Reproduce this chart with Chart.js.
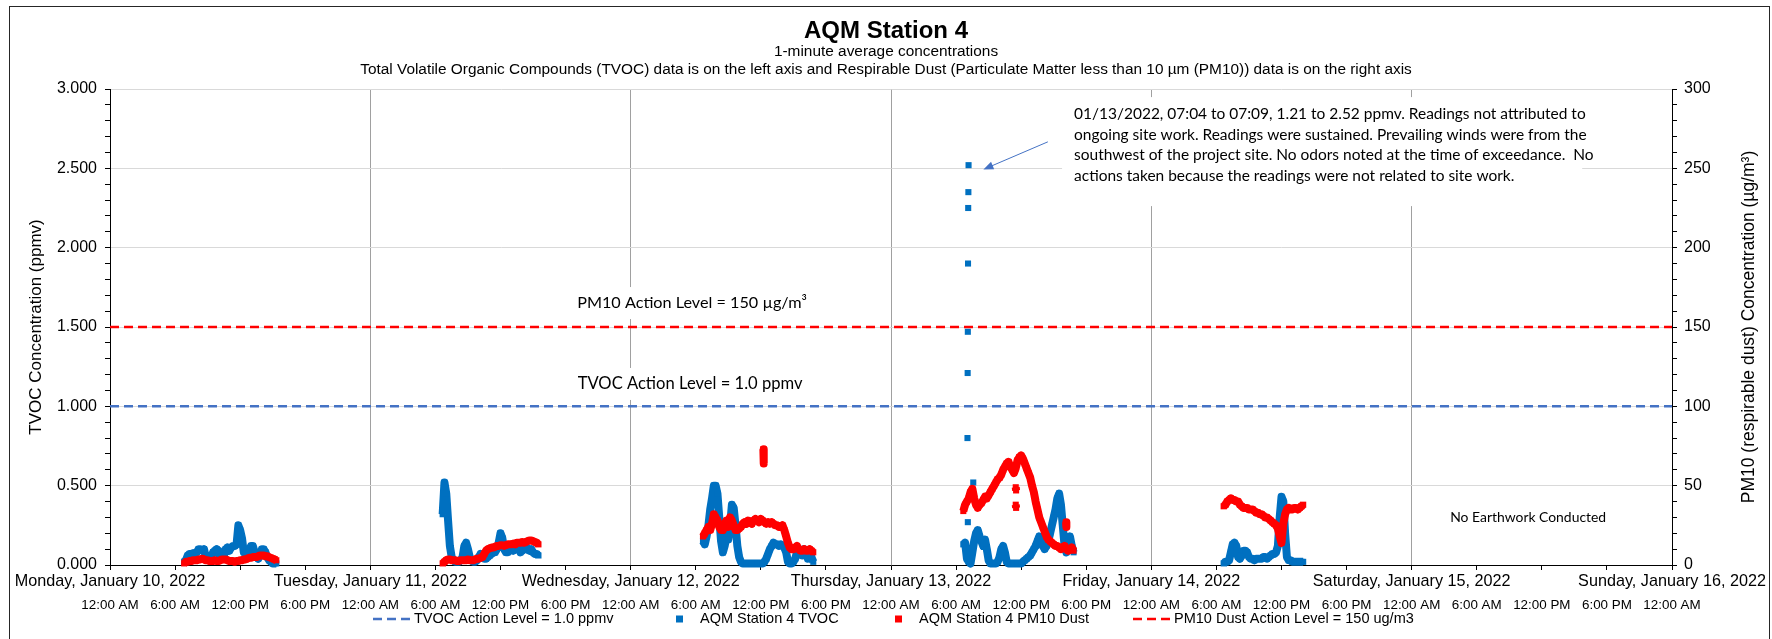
<!DOCTYPE html>
<html>
<head>
<meta charset="utf-8">
<title>AQM Station 4</title>
<script src="https://cdn.jsdelivr.net/npm/chart.js@4.4.1/dist/chart.umd.min.js"></script>
<style>
  html, body { margin: 0; padding: 0; background: #fff; overflow: hidden; }
  #frame { position: absolute; left: 9px; top: 6px; width: 1761px; height: 700px; border: 1px solid #262626; box-sizing: border-box; }
  #wrap { position: absolute; left: 0; top: 0; width: 1772px; height: 639px; }
</style>
</head>
<body>
<div id="frame"></div>
<div id="wrap"><canvas id="chart" width="1772" height="639"></canvas></div>
<script>
const SANS = '"Liberation Sans", Arial, sans-serif';
const CALLOUT = 'Lato, "Noto Sans", sans-serif';

const DAY_LABELS = [
  'Monday, January 10, 2022', 'Tuesday, January 11, 2022', 'Wednesday, January 12, 2022',
  'Thursday, January 13, 2022', 'Friday, January 14, 2022', 'Saturday, January 15, 2022',
  'Sunday, January 16, 2022'
];
const TIME_LABELS = ['12:00 AM', '6:00 AM', '12:00 PM', '6:00 PM'];

// first reading of each work day (Mon..Fri), then one reading every SAMPLE_MIN minutes
const FIRST_READING = ['06:50', '06:40', '06:40', '06:40', '06:40'];
const SAMPLE_MIN = 10;

// TVOC, ppmv (left axis)
const tvocMon = [0.02,0.03,0.06,0.07,0.07,0.075,0.07,0.08,0.10,0.10,0.09,0.10,0.05,0.05,0.04,0.05,0.08,0.09,0.10,0.09,
  0.05,0.04,0.06,0.10,0.11,0.09,0.11,0.12,0.12,0.13,0.25,0.22,0.17,0.08,0.07,0.06,0.08,0.12,0.12,0.08,
  0.05,0.04,0.06,0.10,0.10,0.08,0.05,0.03,0.02,0.01,0.01,0.01];
const tvocTue = [0.32,0.52,0.45,0.28,0.12,0.05,0.03,0.02,0.02,0.02,0.03,0.05,0.12,0.14,0.10,0.05,0.03,0.02,0.02,0.03,
  0.05,0.07,0.06,0.04,0.04,0.05,0.06,0.07,0.08,0.08,0.10,0.14,0.20,0.17,0.10,0.08,0.08,0.09,0.10,0.09,
  0.10,0.12,0.10,0.08,0.09,0.10,0.12,0.10,0.09,0.10,0.08,0.07,0.07,0.06];
const tvocWed = [0.15,0.13,0.18,0.25,0.35,0.42,0.50,0.50,0.45,0.30,0.15,0.08,0.12,0.18,0.16,0.25,0.38,0.36,0.25,0.12,
  0.05,0.02,0.01,0.01,0.01,0.01,0.01,0.01,0.01,0.01,0.01,0.01,0.01,0.01,0.02,0.04,0.07,0.10,0.12,0.14,
  0.13,0.13,0.12,0.13,0.12,0.11,0.08,0.02,0.01,0.01,0.02,0.04,0.08,0.10,0.09,0.06,0.10,0.08,0.04,0.07,
  0.05,0.02];
const tvocThu = [0.13,0.14,0.04,0.02,0.01,0.08,0.15,0.20,0.22,0.18,0.15,0.12,0.16,0.10,0.03,0.01,0.01,0.01,0.01,0.02,
  0.05,0.10,0.12,0.08,0.02,0.01,0.01,0.01,0.01,0.01,0.01,0.01,0.01,0.02,0.03,0.04,0.05,0.06,0.08,0.10,
  0.12,0.15,0.18,0.16,0.12,0.10,0.12,0.15,0.20,0.25,0.30,0.35,0.42,0.45,0.38,0.25,0.12,0.08,0.15,0.18,
  0.12,0.08];
const tvocFri = [0.01,0.02,0.02,0.03,0.08,0.13,0.14,0.12,0.05,0.04,0.06,0.09,0.09,0.08,0.05,0.04,0.04,0.03,0.04,0.04,
  0.04,0.04,0.05,0.05,0.04,0.05,0.06,0.07,0.07,0.08,0.12,0.30,0.43,0.40,0.20,0.05,0.03,0.03,0.02,0.02,
  0.02,0.02,0.02,0.02,0.02];
// stand-alone TVOC readings: [day, time, ppmv]
const tvocSingles = [[3,'07:03',0.80],[3,'07:04',1.21],[3,'07:05',1.47],[3,'07:06',1.90],[3,'07:07',2.25],
  [3,'07:08',2.35],[3,'07:09',2.52],[3,'07:05',0.27],[3,'07:35',0.52]];

// PM10, ug/m3 (right axis)
const pm10Mon = [1,2,2,2.5,2.5,3,3,3,3.5,3.5,4,3.5,3,3,2.5,2.5,2.5,3,2.5,2.5,3,3.5,3.5,3.5,3,2.5,2.5,2.5,2,2.5,
  2.5,3,3,3.5,3.5,4,4.5,4.5,5,5,5,5.5,6,6,6,5.5,5.5,5,4.5,4,3.5,3];
const pm10Tue = [1,2,3,3.5,3.5,3,3,3,2.5,2.5,3,3,3,3,3.5,3,3,3,3.5,4,4,4.5,5,7,9,10,10.5,11,11,11.5,
  12,12,12.5,12.5,12,12.5,13,13,13,13.5,13,14,14,14,14.5,14,14.5,15,15.5,15.5,15,14.5,14,13];
const pm10Wed = [18,20,22,24,22,26,32,30,28,24,22,22,26,28,24,30,28,25,22,22,23,24,26,27,26,28,27,26,28,29,
  28,27,29,28,27,26,27,26,27,26,25,25,24,24,25,22,18,14,11,10,10,11,12,10,9,9,10,9,9,10,9,8];
const pm10Thu = [34,38,40,42,46,48,42,38,36,38,39,41,43,42,44,46,48,50,52,54,55,57,60,62,64,65,62,60,58,61,
  66,68,69,67,64,61,58,55,50,46,40,35,30,27,24,21,18,16,15,14,13,12,12,11,10,11,12,10,9,10,11,9];
const pm10Fri = [37,38,40,41,42,41,41,40,40,38,37,36,36,36,35,35,35,34,33,33,32,32,31,30,30,29,28,27,26,25,
  23,18,14,26,32,35,36,35,35,36,36,35,36,37,38];
// short PM10 bursts away from the main trace: [day, time, ug/m3]
const pm10Bursts = [
  [[2,'12:14',73],[2,'12:16',64]],
  [[3,'11:30',49],[3,'11:32',47]],
  [[3,'11:30',38],[3,'11:32',36]],
  [[3,'16:08',27],[3,'16:10',24]]
];

const TVOC_ACTION = 1.0;
const PM10_ACTION = 150;

const NOTE_LINES = [
  '01/13/2022, 07:04 to 07:09, 1.21 to 2.52 ppmv. Readings not attributed to',
  'ongoing site work. Readings were sustained. Prevailing winds were from the',
  'southwest of the project site. No odors noted at the time of exceedance.  No',
  'actions taken because the readings were not related to site work.'
];

const toHours = (d, hhmm) => {
  const [h, m] = hhmm.split(':').map(Number);
  return d * 24 + h + m / 60;
};

function seriesPoints(days, groups) {
  const pts = [];
  days.forEach((vals, d) => {
    const t0 = toHours(d, FIRST_READING[d]);
    vals.forEach((v, i) => pts.push({ x: t0 + i * SAMPLE_MIN / 60, y: v }));
    pts.push({ x: t0, y: null });
  });
  groups.forEach(g => {
    g.forEach(([d, t, v]) => pts.push({ x: toHours(d, t), y: v }));
    pts.push({ x: 0, y: null });
  });
  return pts;
}

const isMajor = (v, every) => Math.abs(v / every - Math.round(v / every)) < 1e-6;

// size the callout font so a text spans a given width (no Calibri here)
function fitPx(ctx, text, width) {
  ctx.save();
  ctx.font = '100px ' + CALLOUT;
  const px = 100 * width / ctx.measureText(text).width;
  ctx.restore();
  return px;
}

// captions, callout box and arrow, placed in data units
const chartNotes = {
  id: 'chartNotes',
  beforeDatasetsDraw(chart) {
    const { ctx, scales: { x, y } } = chart;
    ctx.save();
    ctx.textBaseline = 'middle';
    [['PM10 Action Level = 150 µg/m³', 53.66, 1.651, 230], ['TVOC Action Level = 1.0 ppmv', 53.48, 1.141, 225]].forEach(([txt, h, v, w0]) => {
      const cx = x.getPixelForValue(h), cy = y.getPixelForValue(v);
      ctx.font = fitPx(ctx, txt, w0) + 'px ' + CALLOUT;
      const w = ctx.measureText(txt).width + 12;
      ctx.fillStyle = '#fff';
      ctx.fillRect(cx - w / 2, cy - 16, w, 32);
      ctx.fillStyle = '#000';
      ctx.textAlign = 'center';
      ctx.fillText(txt, cx, cy);
    });

    const bx0 = x.getPixelForValue(87.77), bx1 = x.getPixelForValue(135.72);
    const by0 = y.getPixelForValue(2.949), by1 = y.getPixelForValue(2.262);
    ctx.fillStyle = '#fff';
    ctx.fillRect(bx0, by0, bx1 - bx0, by1 - by0);
    ctx.fillStyle = '#000';
    ctx.textAlign = 'left';
    ctx.font = fitPx(ctx, NOTE_LINES[0], 512) + 'px ' + CALLOUT;
    const tx = x.getPixelForValue(88.88), ty = y.getPixelForValue(2.842);
    NOTE_LINES.forEach((line, i) => ctx.fillText(line, tx, ty + i * 20.7));

    ctx.textAlign = 'center';
    ctx.font = fitPx(ctx, 'No Earthwork Conducted', 156) + 'px ' + CALLOUT;
    ctx.fillText('No Earthwork Conducted', x.getPixelForValue(130.74), y.getPixelForValue(0.299));
    ctx.restore();
  },
  afterDatasetsDraw(chart) {
    const { ctx, scales: { x, y } } = chart;
    const x0 = x.getPixelForValue(86.46), y0 = y.getPixelForValue(2.667);
    const x1 = x.getPixelForValue(80.52), y1 = y.getPixelForValue(2.493);
    const a = Math.atan2(y1 - y0, x1 - x0);
    ctx.save();
    ctx.strokeStyle = '#4472C4';
    ctx.fillStyle = '#4472C4';
    ctx.lineWidth = 1;
    ctx.beginPath();
    ctx.moveTo(x0, y0);
    ctx.lineTo(x1 - Math.cos(a) * 8, y1 - Math.sin(a) * 8);
    ctx.stroke();
    ctx.beginPath();
    ctx.moveTo(x1, y1);
    ctx.lineTo(x1 - Math.cos(a) * 10 + Math.sin(a) * 4, y1 - Math.sin(a) * 10 - Math.cos(a) * 4);
    ctx.lineTo(x1 - Math.cos(a) * 10 - Math.sin(a) * 4, y1 - Math.sin(a) * 10 + Math.cos(a) * 4);
    ctx.closePath();
    ctx.fill();
    ctx.restore();
  }
};

// Excel-style legend row and the right axis title (reads bottom-to-top)
const LEGEND_X = [373, 676, 895, 1133];
const sheetLegend = {
  id: 'sheetLegend',
  afterDraw(chart) {
    const { ctx, chartArea } = chart;
    ctx.save();
    ctx.font = '14.5px ' + SANS;
    ctx.textBaseline = 'middle';
    const ly = 619;
    chart.data.datasets.forEach((ds, i) => {
      const lx = LEGEND_X[i];
      if (ds.borderDash) {
        ctx.save();
        ctx.strokeStyle = ds.borderColor;
        ctx.lineWidth = 2.5;
        ctx.setLineDash(ds.borderDash);
        ctx.beginPath();
        ctx.moveTo(lx, ly);
        ctx.lineTo(lx + 40, ly);
        ctx.stroke();
        ctx.restore();
      } else {
        ctx.fillStyle = ds.backgroundColor;
        ctx.fillRect(lx, ly - 3.5, 7, 7);
      }
      ctx.fillStyle = '#000';
      ctx.fillText(ds.label, lx + (ds.borderDash ? 41 : 24), ly);
    });

    ctx.font = '17.5px ' + SANS;
    ctx.textAlign = 'center';
    ctx.translate(chart.width - 23, (chartArea.top + chartArea.bottom) / 2);
    ctx.rotate(-Math.PI / 2);
    ctx.fillText('PM10 (respirable dust) Concentration (µg/m³)', 0, 0);
    ctx.restore();
  }
};

const dataStyle = color => ({
  showLine: true,
  borderColor: color,
  backgroundColor: color,
  borderWidth: 8,
  borderJoinStyle: 'round',
  pointStyle: 'rect',
  pointRadius: 4.3,
  pointBorderWidth: 0,
  pointBackgroundColor: color,
  clip: false
});

new Chart(document.getElementById('chart'), {
  type: 'scatter',
  data: {
    datasets: [
      {
        type: 'line', label: 'TVOC Action Level = 1.0 ppmv',
        data: [{ x: 0, y: TVOC_ACTION }, { x: 144, y: TVOC_ACTION }],
        borderColor: '#4472C4', borderWidth: 2.5, borderDash: [9, 5], pointRadius: 0,
        yAxisID: 'y', order: 0
      },
      Object.assign({
        label: 'AQM Station 4 TVOC',
        data: seriesPoints([tvocMon, tvocTue, tvocWed, tvocThu, tvocFri], tvocSingles.map(p => [p])),
        yAxisID: 'y', order: 2
      }, dataStyle('#0070C0')),
      Object.assign({
        label: 'AQM Station 4 PM10 Dust',
        data: seriesPoints([pm10Mon, pm10Tue, pm10Wed, pm10Thu, pm10Fri], pm10Bursts),
        yAxisID: 'y2', order: 1
      }, dataStyle('#FF0000')),
      {
        type: 'line', label: 'PM10 Dust Action Level = 150 ug/m3',
        data: [{ x: 0, y: PM10_ACTION }, { x: 144, y: PM10_ACTION }],
        borderColor: '#FF0000', borderWidth: 2.5, borderDash: [9, 5], pointRadius: 0,
        yAxisID: 'y2', order: 0
      }
    ]
  },
  options: {
    responsive: false,
    animation: false,
    events: [],
    layout: { padding: { left: 0, right: 0, top: 0, bottom: 18 } },
    plugins: {
      legend: { display: false },
      tooltip: { enabled: false },
      title: {
        display: true, text: 'AQM Station 4', color: '#000',
        font: { family: SANS, size: 24, weight: 'bold', lineHeight: 1 },
        padding: { top: 19, bottom: 0 }
      },
      subtitle: {
        display: true, color: '#000',
        text: ['1-minute average concentrations',
          'Total Volatile Organic Compounds (TVOC) data is on the left axis and Respirable Dust (Particulate Matter less than 10 µm (PM10)) data is on the right axis'],
        font: { family: SANS, size: 15.4, lineHeight: 18 / 15.4 },
        padding: { top: 0, bottom: 10 }
      }
    },
    scales: {
      x: {
        type: 'linear', position: 'bottom', weight: 0, min: 0, max: 144,
        ticks: {
          stepSize: 6, autoSkip: false, maxRotation: 0, minRotation: 0, padding: 2,
          color: '#000', font: { family: SANS, size: 16.2 },
          callback: v => (v % 24 === 0 ? DAY_LABELS[v / 24] : '')
        },
        grid: {
          color: c => (c.tick && c.tick.value % 24 === 0 ? '#A0A0A0' : 'rgba(0,0,0,0)'),
          tickColor: '#000', tickLength: 5
        },
        border: { color: '#000' },
        afterFit: s => { s.height = 30; }
      },
      x2: {
        type: 'linear', position: 'bottom', weight: 1, min: 0, max: 144,
        ticks: {
          stepSize: 6, autoSkip: false, maxRotation: 0, minRotation: 0, padding: 2,
          color: '#000', font: { family: SANS, size: 13.4 },
          callback: v => TIME_LABELS[(v / 6) % 4]
        },
        grid: { display: false, drawTicks: false },
        border: { display: false },
        afterFit: s => { s.height = 26; }
      },
      y: {
        type: 'linear', position: 'left', min: 0, max: 3,
        ticks: {
          stepSize: 0.1, autoSkip: false, padding: 8, color: '#000',
          font: { family: SANS, size: 16 },
          callback: v => (isMajor(v, 0.5) ? v.toFixed(3) : '')
        },
        grid: {
          color: c => (c.tick && isMajor(c.tick.value, 0.5) ? '#D9D9D9' : 'rgba(0,0,0,0)'),
          tickColor: '#000', tickLength: 5
        },
        border: { color: '#000' },
        title: {
          display: true, text: 'TVOC Concentration (ppmv)', color: '#000',
          font: { family: SANS, size: 17 }, padding: { top: 26, bottom: 0 }
        },
        afterFit: s => { s.width = 110; }
      },
      y2: {
        type: 'linear', position: 'right', min: 0, max: 300,
        ticks: {
          stepSize: 10, autoSkip: false, padding: 7, color: '#000',
          font: { family: SANS, size: 16 },
          callback: v => (isMajor(v, 50) ? String(v) : '')
        },
        grid: { drawOnChartArea: false, tickColor: '#000', tickLength: 5 },
        border: { color: '#000' },
        afterFit: s => { s.width = 100; }
      }
    }
  },
  plugins: [chartNotes, sheetLegend]
});
</script>
</body>
</html>
